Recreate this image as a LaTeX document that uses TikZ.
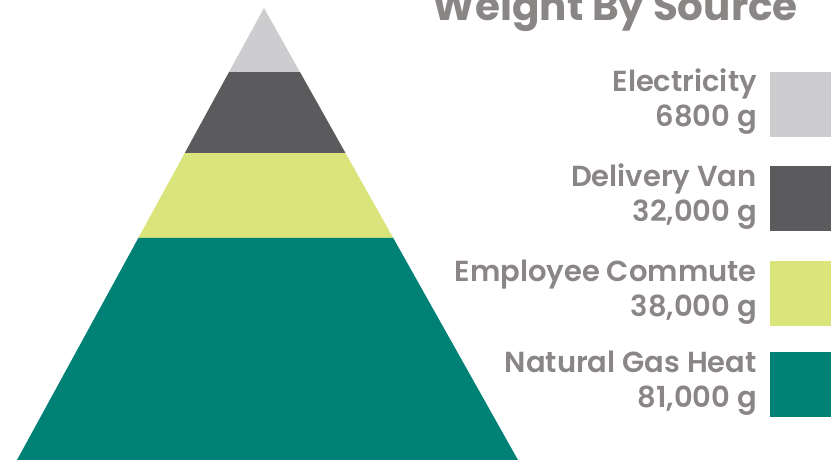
\documentclass[tikz,border=0pt]{standalone}
\usepackage{fontspec}
\usetikzlibrary{calc}

\newfontfamily\titlefont{Poppins}[UprightFont=* Bold]
\newfontfamily\labelfont{Poppins}[UprightFont=* SemiBold]

\definecolor{elecgray}{HTML}{CDCDCF}
\definecolor{vangray}{HTML}{5B5B5D}
\definecolor{commuteyellow}{HTML}{D9E47B}
\definecolor{heatteal}{HTML}{008176}
\definecolor{textgray}{HTML}{8A8685}

\begin{document}
\begin{tikzpicture}[x=1pt,y=-1pt]
        \useasboundingbox (0,0) rectangle (831,460);

        % Pyramid corners
        \coordinate (apex) at (264,8);
        \coordinate (baseL) at (17,460);
        \coordinate (baseR) at (518,460);

        % Layers, top to bottom
        \fill[elecgray] (apex) -- ($(apex)!0.1416!(baseR)$) -- ($(apex)!0.1416!(baseL)$) -- cycle;
        \fill[vangray] ($(apex)!0.1416!(baseL)$) -- ($(apex)!0.1416!(baseR)$)
                -- ($(apex)!0.3208!(baseR)$) -- ($(apex)!0.3208!(baseL)$) -- cycle;
        \fill[commuteyellow] ($(apex)!0.3208!(baseL)$) -- ($(apex)!0.3208!(baseR)$)
                -- ($(apex)!0.5088!(baseR)$) -- ($(apex)!0.5088!(baseL)$) -- cycle;
        \fill[heatteal] ($(apex)!0.5088!(baseL)$) -- ($(apex)!0.5088!(baseR)$)
                -- (baseR) -- (baseL) -- cycle;

        % Title
        \node[anchor=base east,inner sep=0,text=textgray,font=\titlefont\fontsize{40.5}{40.5}\selectfont]
                (title) at (798,21) {Weight By Source};

        % Legend: swatch plus name and amount
        \foreach \i/\top/\name/\amount/\col in {1/72/Electricity/6800 g/elecgray,
                2/166/Delivery Van/{32,000 g}/vangray,
                3/261/Employee Commute/{38,000 g}/commuteyellow,
                4/352/Natural Gas Heat/{81,000 g}/heatteal} {
            \fill[\col] (770,\top) rectangle (831,\top+65);
            \node[anchor=base east,inner sep=0,text=textgray,font=\labelfont\fontsize{29}{29}\selectfont]
                    (name\i) at (757,\top+20) {\name};
            \node[anchor=base east,inner sep=0,text=textgray,font=\labelfont\fontsize{29}{29}\selectfont]
                    (amount\i) at (757,\top+55) {\amount};
        }
\end{tikzpicture}
\end{document}
